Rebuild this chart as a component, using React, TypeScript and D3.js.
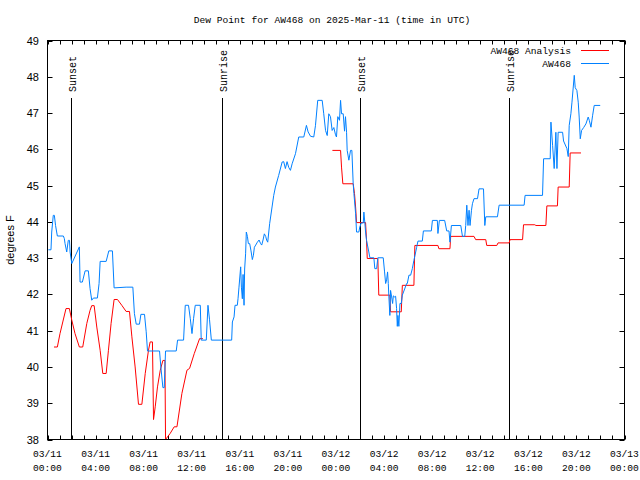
import React from "react";
import * as d3 from "d3";

// ---- Data (hours since 2025-03-11 00:00 UTC) ----
const obsHours = [0.07, 0.29, 0.35, 0.48, 0.57, 0.67, 0.82, 1.32, 1.40, 1.46, 1.60, 1.73, 1.83, 1.88, 2.02, 2.65, 2.71, 2.90, 3.13, 3.40, 3.54, 3.68, 3.82, 4.15, 4.29, 4.38, 4.88, 5.10, 5.40, 5.54, 6.54, 7.10, 7.23, 7.38, 7.65, 7.77, 8.07, 8.21, 8.32, 9.32, 9.43, 9.60, 9.71, 9.82, 10.71, 10.82, 11.32, 11.46, 11.73, 11.88, 12.02, 12.15, 12.29, 12.71, 12.79, 13.21, 13.35, 13.48, 13.63, 15.32, 15.38, 15.52, 15.60, 15.79, 15.85, 15.93, 16.07, 16.13, 16.21, 16.27, 16.35, 16.40, 16.48, 16.54, 16.63, 16.71, 16.82, 16.93, 17.04, 17.13, 17.21, 17.32, 17.46, 17.60, 17.73, 17.82, 17.93, 18.04, 18.15, 18.23, 18.32, 18.48, 18.68, 18.82, 18.96, 19.23, 19.52, 19.65, 19.79, 19.93, 20.07, 20.21, 20.35, 20.63, 20.90, 21.32, 21.54, 21.68, 21.88, 22.15, 22.29, 22.48, 22.85, 22.98, 23.13, 23.27, 23.40, 23.54, 23.68, 23.82, 23.96, 24.04, 24.15, 24.29, 24.38, 24.46, 24.60, 24.71, 24.79, 24.88, 24.93, 25.07, 25.21, 25.32, 25.43, 25.49, 25.63, 25.71, 25.90, 25.98, 26.10, 26.27, 26.32, 26.40, 26.46, 26.54, 26.73, 26.82, 27.15, 27.23, 27.38, 27.48, 27.93, 28.04, 28.13, 28.21, 28.29, 28.35, 28.40, 28.48, 28.54, 28.63, 28.71, 28.77, 28.88, 28.96, 29.04, 29.10, 29.15, 29.23, 29.32, 29.43, 29.52, 29.88, 29.93, 30.07, 30.21, 30.35, 30.48, 30.63, 30.71, 30.82, 31.18, 31.27, 31.93, 32.02, 32.43, 32.48, 32.60, 33.04, 33.21, 33.40, 33.48, 33.60, 34.38, 34.52, 34.71, 34.79, 34.88, 34.98, 35.07, 35.15, 35.27, 35.35, 35.48, 35.77, 35.90, 36.27, 36.38, 36.46, 37.43, 37.57, 39.65, 39.73, 41.18, 41.27, 41.82, 41.88, 42.02, 42.15, 42.29, 42.38, 42.48, 42.85, 42.93, 43.21, 43.32, 43.40, 43.54, 43.63, 43.82, 43.90, 44.04, 44.15, 44.23, 44.32, 44.43, 44.60, 44.79, 44.98, 45.07, 45.21, 45.35, 45.48, 45.98];
const obsValues = [43.23, 43.23, 43.72, 44.18, 44.18, 43.9, 43.61, 43.61, 43.54, 43.4, 43.17, 43.49, 43.49, 43.17, 42.85, 43.31, 42.34, 42.34, 42.65, 42.65, 42.16, 41.84, 41.9, 41.9, 42.3, 42.91, 42.91, 43.2, 43.2, 42.18, 42.2, 42.2, 41.47, 41.18, 41.18, 41.45, 41.45, 40.97, 40.44, 40.44, 40.0, 39.43, 39.43, 40.44, 40.44, 40.74, 40.74, 41.7, 41.7, 41.33, 40.92, 41.33, 41.7, 41.7, 40.74, 40.74, 41.7, 41.3, 40.74, 40.74, 41.24, 41.38, 41.7, 41.7, 41.88, 42.2, 42.76, 42.2, 41.88, 42.55, 41.7, 42.7, 43.12, 43.72, 43.6, 43.4, 43.4, 43.2, 42.96, 43.08, 43.3, 43.36, 43.44, 43.5, 43.4, 43.36, 43.5, 43.67, 43.6, 43.5, 43.44, 43.95, 44.41, 44.73, 44.96, 45.28, 45.65, 45.66, 45.47, 45.66, 45.5, 45.42, 45.6, 45.88, 46.34, 46.34, 46.66, 46.48, 46.36, 46.34, 46.65, 47.35, 47.35, 46.98, 46.52, 46.38, 46.98, 46.9, 46.52, 46.6, 46.4, 46.34, 46.9, 46.8, 47.35, 46.98, 46.98, 46.5, 46.9, 46.47, 45.97, 45.7, 45.97, 45.97, 45.05, 44.78, 44.23, 43.72, 43.72, 43.86, 43.97, 43.97, 44.27, 43.97, 43.72, 43.49, 43.17, 43.01, 43.01, 42.71, 42.71, 43.01, 43.01, 42.62, 42.3, 42.4, 42.62, 42.3, 41.93, 41.42, 42.11, 41.93, 41.75, 41.96, 41.93, 41.95, 41.61, 41.12, 41.42, 41.12, 41.75, 41.75, 41.98, 42.3, 42.3, 42.53, 42.53, 42.71, 42.94, 43.17, 43.3, 43.47, 43.47, 43.75, 43.75, 44.04, 44.04, 43.68, 44.04, 44.04, 43.75, 43.75, 43.44, 43.9, 43.9, 43.6, 43.6, 43.9, 44.46, 43.9, 44.32, 43.9, 44.32, 44.5, 44.64, 44.64, 44.91, 44.91, 43.9, 44.14, 44.14, 44.46, 44.46, 44.73, 44.73, 45.74, 45.74, 46.75, 46.1, 45.47, 46.47, 45.47, 46.47, 46.47, 46.23, 46.02, 45.8, 46.66, 46.98, 47.3, 48.04, 47.7, 47.62, 47.3, 46.89, 46.29, 46.52, 46.6, 46.7, 46.89, 46.8, 46.61, 46.94, 47.21, 47.21];

const anaHours = [0.54, 0.82, 1.04, 1.27, 1.54, 1.82, 2.02, 2.29, 2.65, 2.93, 3.27, 3.54, 3.68, 3.88, 4.10, 4.38, 4.60, 4.88, 5.07, 5.29, 5.54, 5.82, 6.18, 6.54, 6.82, 7.02, 7.29, 7.57, 7.85, 8.13, 8.40, 8.54, 8.73, 8.82, 8.96, 9.15, 9.38, 9.60, 9.77, 9.82, 10.21, 10.54, 10.77, 11.18, 11.60, 11.82, 12.21, 12.65, 12.93, 18.0, 23.7, 24.38, 24.46, 24.57, 25.43, 25.54, 25.63, 25.71, 26.46, 26.54, 26.60, 27.48, 27.56, 28.48, 28.54, 29.43, 29.52, 30.48, 30.56, 32.48, 32.56, 33.48, 33.54, 35.48, 35.62, 36.46, 36.54, 37.38, 37.48, 38.40, 38.48, 39.52, 39.60, 40.54, 40.63, 41.46, 41.54, 42.42, 42.48, 43.40, 43.48, 44.38];
const anaValues: (number | null)[] = [40.55, 40.55, 40.92, 41.24, 41.61, 41.61, 41.29, 40.92, 40.55, 40.55, 41.2, 41.56, 41.69, 41.69, 41.1, 40.46, 39.82, 39.82, 40.46, 41.2, 41.86, 41.86, 41.7, 41.53, 41.53, 40.83, 40.0, 38.97, 38.97, 39.82, 40.46, 40.69, 40.69, 38.55, 38.9, 39.45, 39.91, 40.18, 40.18, 38.0, 38.17, 38.35, 38.35, 39.27, 39.91, 39.96, 40.37, 40.78, 40.78, null, 45.97, 45.97, 45.51, 45.05, 45.05, 44.78, 44.41, 43.98, 43.98, 43.49, 42.99, 42.99, 41.98, 41.98, 41.52, 41.52, 42.25, 42.25, 43.35, 43.35, 43.26, 43.26, 43.6, 43.6, 43.51, 43.51, 43.35, 43.35, 43.42, 43.42, 43.51, 43.51, 43.92, 43.92, 43.9, 43.9, 44.44, 44.44, 44.96, 44.96, 45.9, 45.9];

const sunHours = [1.96, 14.5, 25.98, 38.43];
const sunLabels = ["Sunset", "Sunrise", "Sunset", "Sunrise"];

const xTickHours = [0, 4, 8, 12, 16, 20, 24, 28, 32, 36, 40, 44, 48];
const xTickDates = ["03/11", "03/11", "03/11", "03/11", "03/11", "03/11", "03/12", "03/12", "03/12", "03/12", "03/12", "03/12", "03/13"];
const xTickTimes = ["00:00", "04:00", "08:00", "12:00", "16:00", "20:00", "00:00", "04:00", "08:00", "12:00", "16:00", "20:00", "00:00"];
const yTicks = [38, 39, 40, 41, 42, 43, 44, 45, 46, 47, 48, 49];

const seriesNames = ["AW468 Analysis", "AW468"];
const seriesColors = ["#ff0000", "#0080ff"];

const mono = "'Liberation Mono', 'DejaVu Sans Mono', monospace";
const sans = "'Liberation Sans', Arial, sans-serif";

export default function App() {
  const left = 47.5, right = 624.5, top = 40.5, bottom = 439.5;
  const x = d3.scaleLinear().domain([0, 48]).range([left, right]);
  const y = d3.scaleLinear().domain([38, 49]).range([bottom, top]);

  const obs = obsHours.map((h, i) => ({ h, v: obsValues[i] as number | null }));
  const ana = anaHours.map((h, i) => ({ h, v: anaValues[i] }));
  const line = d3
    .line<{ h: number; v: number | null }>()
    .defined((d) => d.v !== null)
    .x((d) => x(d.h))
    .y((d) => y(d.v as number));

  const minor = d3.range(0, 49);

  return (
    <svg width={640} height={480} style={{ position: "absolute", left: 0, top: 0, background: "#fff" }}>
      <rect x={0} y={0} width={640} height={480} fill="#fff" />
      <defs>
        <clipPath id="plot">
          <rect x={left} y={top} width={right - left} height={bottom - top} />
        </clipPath>
      </defs>
      <text x={332} y={23} textAnchor="middle" fontFamily={mono} fontSize={9.6} fill="#000">
        Dew Point for AW468 on 2025-Mar-11 (time in UTC)
      </text>

      {/* ticks */}
      {minor.map((h) => (
        <g key={"xt" + h} stroke="#000" strokeWidth={1}>
          <line x1={Math.round(x(h)) + 0.5} x2={Math.round(x(h)) + 0.5} y1={bottom} y2={bottom - 4} />
          <line x1={Math.round(x(h)) + 0.5} x2={Math.round(x(h)) + 0.5} y1={top} y2={top + 4} />
        </g>
      ))}
      {yTicks.map((t) => (
        <g key={"yt" + t} stroke="#000" strokeWidth={1}>
          <line x1={left} x2={left + 5} y1={Math.round(y(t)) + 0.5} y2={Math.round(y(t)) + 0.5} />
          <line x1={right} x2={right - 5} y1={Math.round(y(t)) + 0.5} y2={Math.round(y(t)) + 0.5} />
        </g>
      ))}

      {/* y labels */}
      {yTicks.map((t) => (
        <text key={"yl" + t} x={39} y={y(t) + 4} textAnchor="end" fontFamily={sans} fontSize={11} fill="#000">
          {t}
        </text>
      ))}
      <text transform={`translate(14,240) rotate(-90)`} textAnchor="middle" fontFamily={sans} fontSize={11} fill="#000">
        degrees F
      </text>

      {/* x labels */}
      {xTickHours.map((h, i) => (
        <g key={"xl" + h}>
          <text x={x(h)} y={457} textAnchor="middle" fontFamily={mono} fontSize={9.6} fill="#000">
            {xTickDates[i]}
          </text>
          <text x={x(h)} y={471} textAnchor="middle" fontFamily={mono} fontSize={9.6} fill="#000">
            {xTickTimes[i]}
          </text>
        </g>
      ))}

      {/* sun lines */}
      {sunHours.map((h, i) => (
        <g key={"sun" + i}>
          <line x1={Math.round(x(h)) + 0.5} x2={Math.round(x(h)) + 0.5} y1={98} y2={bottom} stroke="#000" strokeWidth={1} />
          <text
            transform={`translate(${Math.round(x(h)) + 5},92) rotate(-90)`}
            textAnchor="start"
            fontFamily={mono}
            fontSize={10}
            fill="#000"
          >
            {sunLabels[i]}
          </text>
        </g>
      ))}

      <g clipPath="url(#plot)" fill="none" strokeWidth={1}>
        <path d={line(ana) || ""} stroke={seriesColors[0]} />
        <path d={line(obs) || ""} stroke={seriesColors[1]} />
      </g>

      {/* legend */}
      {seriesNames.map((n, i) => (
        <g key={"lg" + i}>
          <text x={571} y={53.5 + i * 13} textAnchor="end" fontFamily={mono} fontSize={9.6} fill="#000">
            {n}
          </text>
          <line x1={581} x2={609} y1={50.5 + i * 13} y2={50.5 + i * 13} stroke={seriesColors[i]} strokeWidth={1} />
        </g>
      ))}

      <rect x={left} y={top} width={right - left} height={bottom - top} fill="none" stroke="#000" strokeWidth={1} />
    </svg>
  );
}
